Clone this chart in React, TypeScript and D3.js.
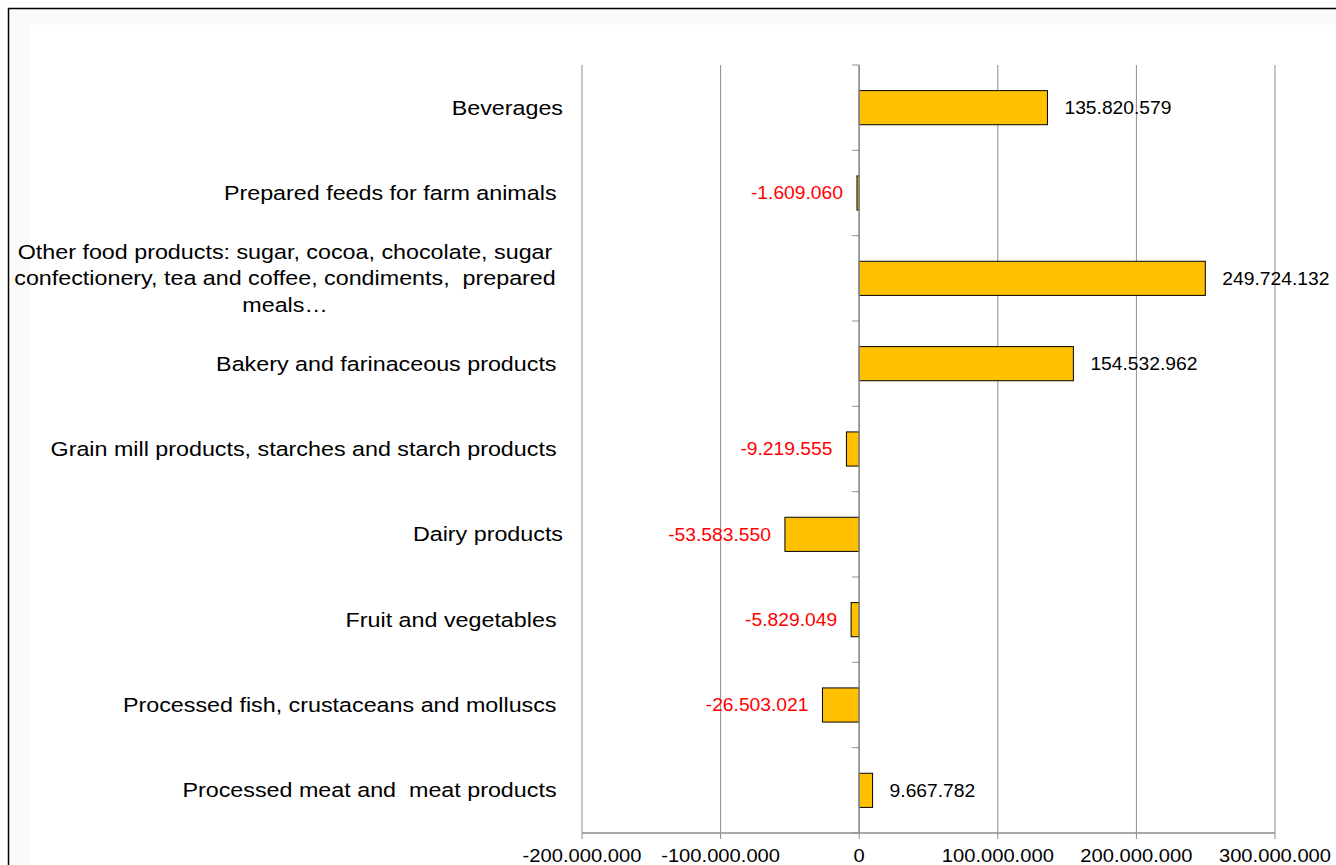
import React from "react";
import * as d3 from "d3";

const categories = [
  "Beverages",
  "Prepared feeds for farm animals ",
  "Other food products: sugar, cocoa, chocolate, sugar|confectionery, tea and coffee, condiments,  prepared|meals…",
  "Bakery and farinaceous products ",
  "Grain mill products, starches and starch products ",
  "Dairy products",
  "Fruit and vegetables ",
  "Processed fish, crustaceans and molluscs ",
  "Processed meat and  meat products ",
];
const values = [135820579, -1609060, 249724132, 154532962, -9219555, -53583550, -5829049, -26503021, 9667782];
const xTicks = [-200000000, -100000000, 0, 100000000, 200000000, 300000000];

const W = 1336;
const H = 865;

const fmt = d3
  .formatLocale({ decimal: ",", thousands: ".", grouping: [3], currency: ["", ""], minus: "-" })
  .format(",d");

export default function App() {
  const x = d3.scaleLinear().domain([-200000000, 300000000]).range([582, 1275]);
  const y = d3.scaleBand<string>().domain(categories).range([65, 833]).paddingInner(0.6).paddingOuter(0.3);
  const step = y.step();
  const top = 65;
  const bottom = 833;
  const font = "'Liberation Sans', Arial, sans-serif";
  const catFS = 19.5;
  const catSX = 1.195;
  const valFS = 18;
  const valSX = 1.07;
  const axFS = 18;
  const axSX = 1.12;
  const gridColor = "#8c8c8c";

  return (
    <svg
      width={W}
      height={H}
      style={{ position: "absolute", left: 0, top: 0, display: "block", background: "#ffffff" }}
      fontFamily={font}
    >
      <rect x={8.5} y={8.5} width={W + 20} height={H + 20} fill="#fafafa" stroke="#000" strokeWidth={1.5} />
      <rect x={30} y={25} width={W} height={H} fill="#ffffff" />
      {xTicks.map((t) => (
        <line key={"g" + t} x1={x(t)} x2={x(t)} y1={top} y2={bottom} stroke={gridColor} strokeWidth={1} />
      ))}
      <line x1={x(-200000000)} x2={x(300000000)} y1={bottom} y2={bottom} stroke={gridColor} strokeWidth={1.5} />
      {xTicks.map((t) => (
        <line key={"t" + t} x1={x(t)} x2={x(t)} y1={bottom} y2={bottom + 6} stroke={gridColor} strokeWidth={1} />
      ))}
      {xTicks.map((t) => (
        <text
          key={"l" + t}
          transform={`translate(${x(t)},${bottom + 29}) scale(${axSX},1)`}
          textAnchor="middle"
          fontSize={axFS}
          fill="#000"
        >
          {fmt(t)}
        </text>
      ))}
      {d3.range(categories.length + 1).map((i) => (
        <line
          key={"ct" + i}
          x1={x(0) - 7}
          x2={x(0)}
          y1={top + i * step}
          y2={top + i * step}
          stroke={gridColor}
          strokeWidth={1}
        />
      ))}
      {categories.map((c, i) => {
        const v = values[i];
        const x0 = Math.min(x(0), x(v));
        const w = Math.abs(x(v) - x(0));
        return (
          <rect
            key={"b" + i}
            x={x0}
            y={y(c)!}
            width={w}
            height={y.bandwidth()}
            fill="#FFC000"
            stroke="#000"
            strokeWidth={1}
          />
        );
      })}
      <line x1={x(0)} x2={x(0)} y1={top} y2={bottom} stroke={gridColor} strokeWidth={1.5} />
      {categories.map((c, i) => {
        const v = values[i];
        const cy = y(c)! + y.bandwidth() / 2;
        const pos = v >= 0;
        const tx = pos ? x(v) + 17 : x(v) - 14;
        return (
          <text
            key={"v" + i}
            transform={`translate(${tx},${cy + valFS * 0.36}) scale(${valSX},1)`}
            textAnchor={pos ? "start" : "end"}
            fontSize={valFS}
            fill={pos ? "#000" : "#ff0000"}
          >
            {fmt(v)}
          </text>
        );
      })}
      {categories.map((c, i) => {
        const lines = c.split("|");
        const cy = y(c)! + y.bandwidth() / 2;
        if (lines.length === 1) {
          return (
            <text
              key={"c" + i}
              transform={`translate(563,${cy + catFS * 0.36}) scale(${catSX},1)`}
              textAnchor="end"
              fontSize={catFS}
              fill="#000"
              style={{ whiteSpace: "pre" }}
            >
              {c}
            </text>
          );
        }
        const lh = 26.5;
        return lines.map((ln, j) => (
          <text
            key={"c" + i + "_" + j}
            transform={`translate(285,${cy + (j - (lines.length - 1) / 2) * lh + catFS * 0.36}) scale(${catSX},1)`}
            textAnchor="middle"
            fontSize={catFS}
            fill="#000"
            style={{ whiteSpace: "pre" }}
          >
            {ln}
          </text>
        ));
      })}
    </svg>
  );
}
